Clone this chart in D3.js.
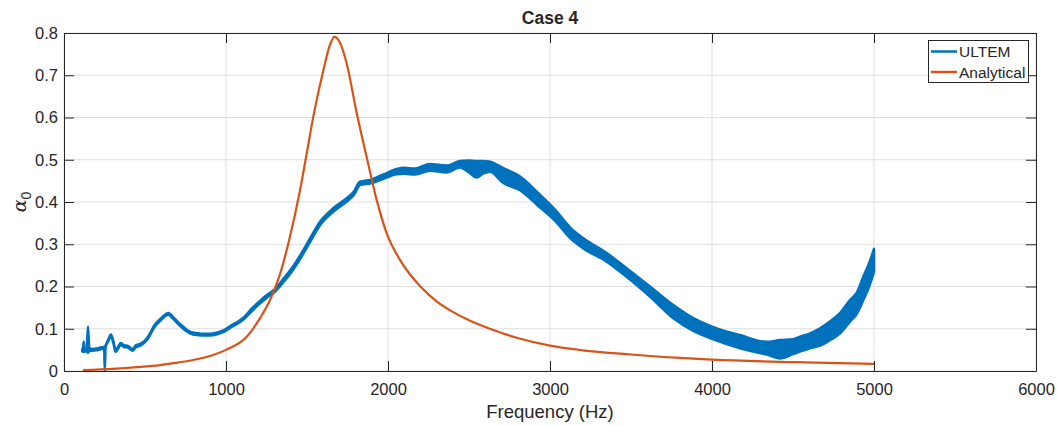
<!DOCTYPE html>
<html><head><meta charset="utf-8">
<script src="https://cdn.jsdelivr.net/npm/d3@7"></script>
<style>
body{margin:0;background:#fff;}
text{font-family:"Liberation Sans",Arial,Helvetica,sans-serif;fill:#262626;}
</style></head>
<body><svg id="c" width="1058" height="426"></svg>
<script>
const titleText = "Case 4";
const xLabel = "Frequency (Hz)";
const xTicks = [0,1000,2000,3000,4000,5000,6000];
const xTickLabels = ["0","1000","2000","3000","4000","5000","6000"];
const yTicks = [0,0.1,0.2,0.3,0.4,0.5,0.6,0.7,0.8];
const yTickLabels = ["0","0.1","0.2","0.3","0.4","0.5","0.6","0.7","0.8"];
const seriesNames = ["ULTEM","Analytical"];

// ULTEM measured (band: upper / lower envelope of the oscillating trace)
const ultemFreq  = [113,118,122,126,140,148,156,175,200,230,248,252,256,275,290,305,319,335,350,370,391,410,425,442,470,494,525,556,600,644,680,720,760,792,830,864,900,946,990,1029,1070,1111,1160,1210,1250,1300,1354,1400,1457,1518,1580,1662,1745,1790,1827,1889,1971,2054,2100,2167,2259,2362,2444,2500,2547,2590,2630,2712,2815,2930,3040,3123,3206,3350,3473,3617,3761,3885,4000,4173,4337,4420,4500,4543,4605,4667,4728,4790,4852,4893,4934,4970,5000];
const ultemUpper = [0.052,0.055,0.069,0.052,0.052,0.105,0.054,0.052,0.053,0.056,0.057,0.058,0.060,0.076,0.086,0.070,0.049,0.058,0.066,0.061,0.060,0.055,0.052,0.060,0.064,0.070,0.085,0.107,0.125,0.137,0.125,0.110,0.097,0.091,0.089,0.088,0.088,0.091,0.097,0.107,0.116,0.127,0.148,0.166,0.179,0.193,0.218,0.240,0.273,0.313,0.353,0.385,0.409,0.425,0.448,0.452,0.465,0.478,0.481,0.479,0.490,0.486,0.497,0.498,0.497,0.497,0.495,0.480,0.460,0.420,0.378,0.340,0.314,0.279,0.243,0.200,0.156,0.125,0.105,0.085,0.069,0.073,0.075,0.081,0.089,0.101,0.117,0.137,0.168,0.185,0.223,0.255,0.289];
const ultemLower = [0.046,0.046,0.045,0.046,0.047,0.043,0.048,0.048,0.049,0.052,0.053,0.000,0.055,0.072,0.082,0.066,0.045,0.054,0.062,0.057,0.056,0.051,0.048,0.056,0.060,0.066,0.081,0.103,0.121,0.133,0.121,0.106,0.093,0.087,0.085,0.084,0.084,0.087,0.093,0.103,0.112,0.123,0.142,0.160,0.173,0.187,0.210,0.232,0.265,0.305,0.345,0.377,0.401,0.417,0.440,0.444,0.455,0.466,0.467,0.465,0.474,0.470,0.482,0.470,0.458,0.468,0.472,0.445,0.428,0.390,0.352,0.315,0.290,0.259,0.223,0.176,0.125,0.095,0.076,0.054,0.039,0.030,0.040,0.046,0.054,0.060,0.073,0.089,0.117,0.135,0.168,0.200,0.235];

// Analytical
const anaFreq = [117,300,450,593,700,796,921,1000,1128,1210,1272,1330,1390,1457,1502,1539,1601,1640,1669,1700,1745,1807,1868,1930,1992,2074,2200,2300,2400,2500,2650,2800,3000,3200,3500,3800,4000,4500,5000];
const anaVal  = [0.002,0.005,0.009,0.014,0.020,0.026,0.038,0.050,0.081,0.125,0.168,0.225,0.310,0.428,0.523,0.602,0.712,0.770,0.791,0.780,0.728,0.610,0.507,0.405,0.326,0.263,0.200,0.165,0.140,0.120,0.097,0.078,0.060,0.049,0.039,0.031,0.027,0.021,0.017];

const colors = ["#0072BD","#D95319"];
const svg = d3.select("#c");
const m = {l:64, t:33, r:1036, b:371};
const x = d3.scaleLinear().domain([0,6000]).range([m.l,m.r]);
const y = d3.scaleLinear().domain([0,0.8]).range([m.b,m.t]);
const axisCol = "#262626";
const FONT = "Liberation Sans, Arial, sans-serif";

// grid
const g = svg.append("g");
g.selectAll(".gx").data(xTicks).enter().append("line")
  .attr("x1",d=>x(d)).attr("x2",d=>x(d)).attr("y1",m.t).attr("y2",m.b)
  .attr("stroke","#dfdfdf").attr("stroke-width",1);
g.selectAll(".gy").data(yTicks).enter().append("line")
  .attr("x1",m.l).attr("x2",m.r).attr("y1",d=>y(d)).attr("y2",d=>y(d))
  .attr("stroke","#dfdfdf").attr("stroke-width",1);

// data
const uData = ultemFreq.map((f,i)=>({f, hi:ultemUpper[i], lo:ultemLower[i]}));
const area = d3.area().x(d=>x(d.f)).y0(d=>y(d.lo)).y1(d=>y(d.hi)).curve(d3.curveMonotoneX);
svg.append("path").datum(uData).attr("d",area)
  .attr("fill",colors[0]).attr("stroke",colors[0]).attr("stroke-width",2.6).attr("stroke-linejoin","round");

const aData = anaFreq.map((f,i)=>({f, v:anaVal[i]}));
svg.append("path").datum(aData)
  .attr("d", d3.line().x(d=>x(d.f)).y(d=>y(d.v)).curve(d3.curveMonotoneX))
  .attr("fill","none").attr("stroke",colors[1]).attr("stroke-width",2.2);

// axes
const xb = d3.axisBottom(x).tickValues(xTicks).tickFormat((d,i)=>xTickLabels[i]).tickSizeInner(-10).tickSizeOuter(0).tickPadding(12);
const xt = d3.axisTop(x).tickValues(xTicks).tickFormat("").tickSizeInner(-10).tickSizeOuter(0);
const yl = d3.axisLeft(y).tickValues(yTicks).tickFormat((d,i)=>yTickLabels[i]).tickSizeInner(-10).tickSizeOuter(0).tickPadding(6);
const yr = d3.axisRight(y).tickValues(yTicks).tickFormat("").tickSizeInner(-10).tickSizeOuter(0);
function style(sel){
  sel.select(".domain").attr("stroke",axisCol);
  sel.selectAll(".tick line").attr("stroke",axisCol);
  sel.selectAll(".tick text").attr("fill",axisCol).style("font-size","16.5px").style("font-family",FONT);
}
svg.append("g").attr("transform",`translate(0,${m.b})`).call(xb).call(style);
svg.append("g").attr("transform",`translate(0,${m.t})`).call(xt).call(style);
svg.append("g").attr("transform",`translate(${m.l},0)`).call(yl).call(style);
svg.append("g").attr("transform",`translate(${m.r},0)`).call(yr).call(style);

// title & labels
svg.append("text").attr("x",(m.l+m.r)/2).attr("y",24).attr("text-anchor","middle")
  .style("font-size","17.5px").style("font-weight","bold").text(titleText);
svg.append("text").attr("x",(m.l+m.r)/2).attr("y",418).attr("text-anchor","middle")
  .style("font-size","18.5px").text(xLabel);
const yt = svg.append("text").attr("transform","translate(26,202) rotate(-90)").attr("text-anchor","middle")
  .style("font-size","19px");
yt.append("tspan").style("font-family","DejaVu Serif, serif").style("font-style","italic").text("α");
yt.append("tspan").attr("dy",5).style("font-size","14px").text("0");

// legend
const lg = svg.append("g");
lg.append("rect").attr("x",928.5).attr("y",40.5).attr("width",100).attr("height",42)
  .attr("fill","#fff").attr("stroke",axisCol).attr("stroke-width",1);
seriesNames.forEach((n,i)=>{
  const yy = 51.5 + i*20.5;
  lg.append("line").attr("x1",931).attr("x2",957).attr("y1",yy).attr("y2",yy)
    .attr("stroke",colors[i]).attr("stroke-width",2.5);
  lg.append("text").attr("x",959).attr("y",yy+5.5).style("font-size","15.5px").text(n);
});
</script></body></html>
